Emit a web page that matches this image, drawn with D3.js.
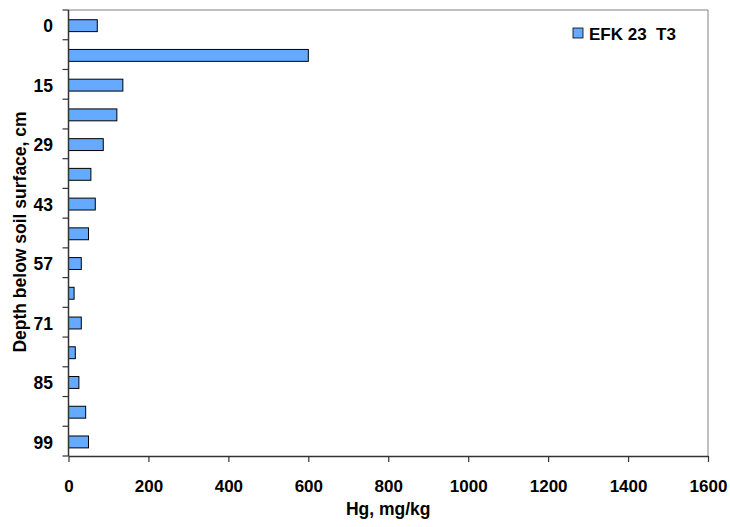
<!DOCTYPE html>
<html>
<head>
<meta charset="utf-8">
<script src="https://cdn.jsdelivr.net/npm/d3@7"></script>
<style>
html,body{margin:0;padding:0;background:#fff;}
text{font-family:Arial,"Liberation Sans",sans-serif;font-weight:bold;}
</style>
</head>
<body>
<svg id="chart" width="730" height="527"></svg>
<script>
const depths = ["0","8","15","22","29","36","43","50","57","64","71","78","85","92","99"];
const shownLabels = ["0","15","29","43","57","71","85","99"];
const hgValues = [72, 600, 136, 121, 87, 56, 67, 50, 32, 14, 32, 17, 26, 43, 50];
const xTicks = [0, 200, 400, 600, 800, 1000, 1200, 1400, 1600];
const seriesName = "EFK 23  T3";

const svg = d3.select("#chart");
const m = {left: 68.5, top: 10, right: 708, bottom: 456};

const x = d3.scaleLinear().domain([0, 1600]).range([m.left, m.right]);
const y = d3.scaleBand().domain(depths).range([m.top, m.bottom]).paddingInner(0.6).paddingOuter(0.3);

// plot border (top/right)
svg.append("path")
  .attr("d", `M${m.left},${m.top}H${m.right}V${m.bottom}`)
  .attr("fill", "none").attr("stroke", "#808080").attr("stroke-width", 1);

// bars
svg.selectAll("rect.bar").data(depths).enter().append("rect")
  .attr("class", "bar")
  .attr("x", x(0))
  .attr("y", (d) => y(d) + 0.8)
  .attr("width", (d, i) => x(hgValues[i]) - x(0))
  .attr("height", y.bandwidth())
  .attr("fill", "#66aaff")
  .attr("stroke", "#000")
  .attr("stroke-width", 1);

// x axis
const xAxis = svg.append("g")
  .attr("transform", `translate(0,${m.bottom})`)
  .call(d3.axisBottom(x).tickValues(xTicks).tickFormat(d3.format("d")).tickSize(6).tickPadding(18).tickSizeOuter(0));
xAxis.select(".domain").attr("stroke", "#333").attr("stroke-width", 1.5);
xAxis.selectAll(".tick line").attr("stroke", "#333").attr("stroke-width", 1.2);
xAxis.selectAll("text").attr("font-size", 17).attr("fill", "#000")
  .style("font-family", "Arial, 'Liberation Sans', sans-serif").style("font-weight", "bold");

// y axis: ticks at band boundaries
const yBoundaries = d3.range(depths.length + 1).map(i => m.top + i * (m.bottom - m.top) / depths.length);
const yAxisG = svg.append("g");
yAxisG.append("line").attr("x1", m.left).attr("x2", m.left).attr("y1", m.top).attr("y2", m.bottom)
  .attr("stroke", "#333").attr("stroke-width", 1.5);
yAxisG.selectAll("line.tk").data(yBoundaries).enter().append("line")
  .attr("class", "tk")
  .attr("x1", m.left - 6).attr("x2", m.left)
  .attr("y1", d => d).attr("y2", d => d)
  .attr("stroke", "#333").attr("stroke-width", 1.2);
yAxisG.selectAll("text").data(shownLabels).enter().append("text")
  .attr("x", 53)
  .attr("y", d => y(d) + y.bandwidth() / 2)
  .attr("dy", "0.43em")
  .attr("text-anchor", "end")
  .attr("font-size", 17.5)
  .text(d => d);

// axis titles
svg.append("text")
  .attr("x", (m.left + m.right) / 2).attr("y", 515)
  .attr("text-anchor", "middle").attr("font-size", 17.5)
  .text("Hg, mg/kg");
svg.append("text")
  .attr("transform", `translate(25.5,232) rotate(-90)`)
  .attr("text-anchor", "middle").attr("font-size", 17.5)
  .text("Depth below soil surface, cm");

// legend
svg.append("rect").attr("x", 573).attr("y", 28).attr("width", 10).attr("height", 10)
  .attr("fill", "#66aaff").attr("stroke", "#000").attr("stroke-width", 0.8);
svg.append("text").attr("x", 589).attr("y", 39.5).attr("font-size", 17)
  .style("white-space", "pre").attr("xml:space", "preserve")
  .text(seriesName);
</script>
</body>
</html>
